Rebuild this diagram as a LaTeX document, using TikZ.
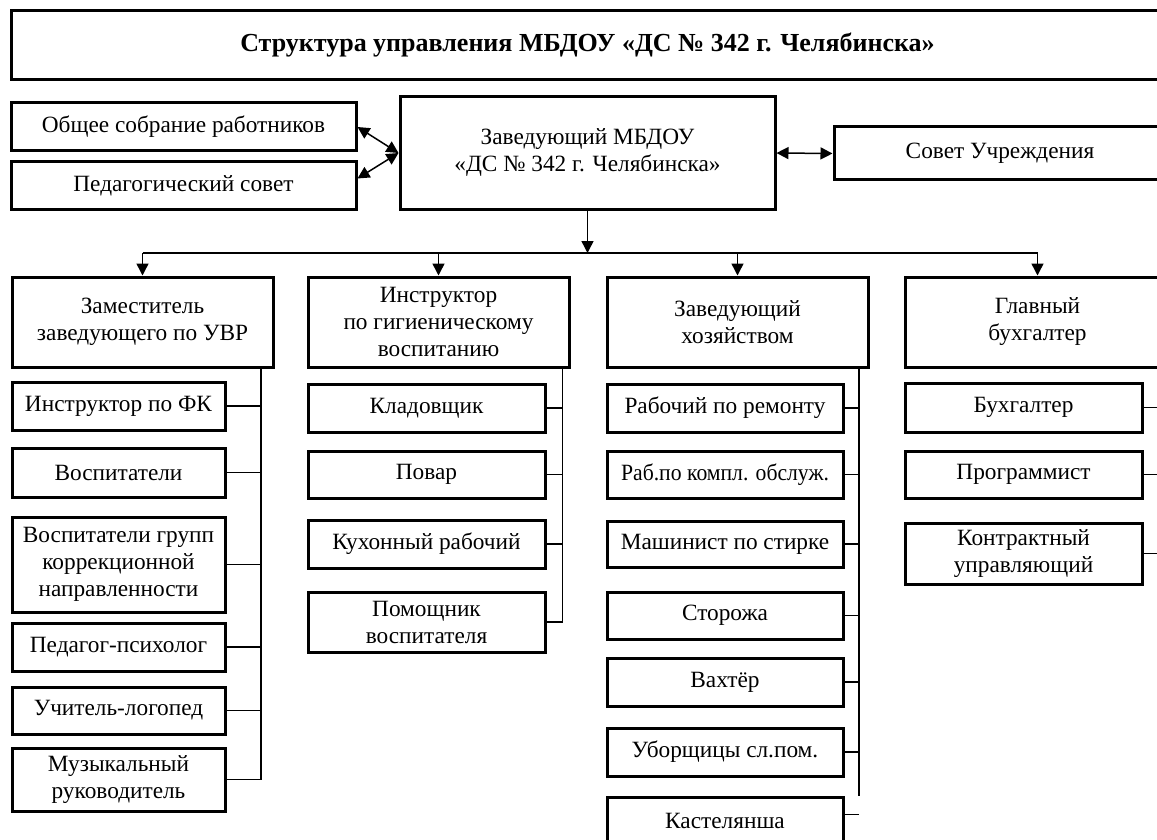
\documentclass[tikz,border=0pt]{standalone}
\usepackage{fontspec}
\setmainfont{Liberation Serif}
\usetikzlibrary{arrows.meta}
\newcommand\myfs{\fontsize{23.3}{27}\selectfont}
\begin{document}
\begin{tikzpicture}[x=1pt,y=-1pt,
  box/.style={draw, line width=3pt, inner sep=0pt, align=center, font=\myfs},
  conn/.style={line width=1.5pt},
  arr/.style={conn, -{Triangle[width=12pt,length=12pt]}},
  darr/.style={conn, {Triangle[width=12pt,length=12pt]}-{Triangle[width=12pt,length=12pt]}}]
\useasboundingbox (0,0) rectangle (1157,840);
\clip (0,0) rectangle (1157,840);
\fill[white] (0,0) rectangle (1157,840);

% top
\node[box, minimum width=1153pt, minimum height=69pt, font=\fontsize{26}{30}\selectfont\bfseries] (title) at (587.5,45.5) {Структура управления МБДОУ «ДС № 342 г. Челябинска»};
\node[box, minimum width=345pt, minimum height=48pt] (obs) at (183.5,127) {Общее собрание работников};
\node[box, minimum width=345pt, minimum height=47pt] (ped) at (183.5,185.5) {Педагогический совет};
\node[box, minimum width=375pt, minimum height=112pt] (mgr) at (587.5,153) {Заведующий МБДОУ\\«ДС № 342 г. Челябинска»};
\node[box, minimum width=332pt, minimum height=53pt] (sov) at (1000,153.5) {Совет Учреждения};

\draw[darr] (obs.east) -- (mgr.west);
\draw[darr] ([yshift=7pt]ped.east) -- (mgr.west);
\draw[darr] (mgr.east) -- (sov.west);

% level 2
\node[box, minimum width=261pt, minimum height=90pt] (zam) at (142.5,322) {Заместитель\\заведующего по УВР};
\node[box, minimum width=261pt, minimum height=90pt] (ins) at (438.5,322) {Инструктор\\по гигиеническому\\воспитанию};
\node[box, minimum width=261pt, minimum height=90pt] (zx) at (737.5,322) {Заведующий\\хозяйством};
\node[box, minimum width=265pt, minimum height=90pt] (gb) at (1037.5,322) {Главный\\бухгалтер};

\coordinate (bus) at (587.5,253);
\draw[arr] (mgr.south) -- (bus);
\draw[conn] (zam.north |- bus) -- (gb.north |- bus);
\foreach \n in {zam,ins,zx,gb} \draw[arr] (\n.north |- bus) -- (\n.north);

% column 1
\node[box, minimum width=213pt, minimum height=48pt] (a1) at (118.5,406) {Инструктор по ФК};
\node[box, minimum width=213pt, minimum height=49pt] (a2) at (118.5,472.5) {Воспитатели};
\node[box, minimum width=213pt, minimum height=95pt] (a3) at (118.5,564.5) {Воспитатели групп\\коррекционной\\направленности};
\node[box, minimum width=213pt, minimum height=48pt] (a4) at (118.5,647) {Педагог-психолог};
\node[box, minimum width=213pt, minimum height=47pt] (a5) at (118.5,710.5) {Учитель-логопед};
\node[box, minimum width=213pt, minimum height=63pt] (a6) at (118.5,779.5) {Музыкальный\\руководитель};
\coordinate (b1) at (261,0);
\draw[conn] (b1 |- zam.south) -- (b1 |- a6.east) -- (a6.east);
\foreach \n in {a1,a2,a3,a4,a5} \draw[conn] (\n.east) -- (\n.east -| b1);

% column 2
\node[box, minimum width=237pt, minimum height=48pt] (c1) at (426.5,408) {Кладовщик};
\node[box, minimum width=237pt, minimum height=47pt] (c2) at (426.5,474.5) {Повар};
\node[box, minimum width=237pt, minimum height=48pt] (c3) at (426.5,544) {Кухонный рабочий};
\node[box, minimum width=237pt, minimum height=60pt] (c4) at (426.5,622) {Помощник\\воспитателя};
\coordinate (b2) at (562.5,0);
\draw[conn] (b2 |- ins.south) -- (b2 |- c4.east) -- (c4.east);
\foreach \n in {c1,c2,c3} \draw[conn] (\n.east) -- (\n.east -| b2);

% column 3
\node[box, minimum width=236pt, minimum height=48pt] (d1) at (725,408) {Рабочий по ремонту};
\node[box, minimum width=236pt, minimum height=47pt] (d2) at (725,474.5) {\scalebox{0.93}[1]{Раб.по компл. обслуж.}};
\node[box, minimum width=236pt, minimum height=46pt] (d3) at (725,544) {Машинист по стирке};
\node[box, minimum width=236pt, minimum height=47pt] (d4) at (725,615.5) {Сторожа};
\node[box, minimum width=236pt, minimum height=48pt] (d5) at (725,682) {Вахтёр};
\node[box, minimum width=236pt, minimum height=48pt] (d6) at (725,752) {Уборщицы сл.пом.};
\node[box, minimum width=236pt, minimum height=48pt] (d7) at (725,821) {Кастелянша};
\coordinate (b3) at (859,0);
\draw[conn] (b3 |- zx.south) -- (b3 |- d7.north east) ++(0,19) coordinate (k) -- (k -| d7.east);
\foreach \n in {d1,d2,d3,d4,d5,d6} \draw[conn] (\n.east) -- (\n.east -| b3);

% column 4
\node[box, minimum width=237pt, minimum height=49pt] (e1) at (1023.5,407.5) {Бухгалтер};
\node[box, minimum width=237pt, minimum height=47pt] (e2) at (1023.5,474.5) {Программист};
\node[box, minimum width=237pt, minimum height=61pt] (e3) at (1023.5,553.5) {Контрактный\\управляющий};
\coordinate (b4) at (1170,0);
\foreach \n in {e1,e2,e3} \draw[conn] (\n.east) -- (\n.east -| b4);
\end{tikzpicture}
\end{document}
